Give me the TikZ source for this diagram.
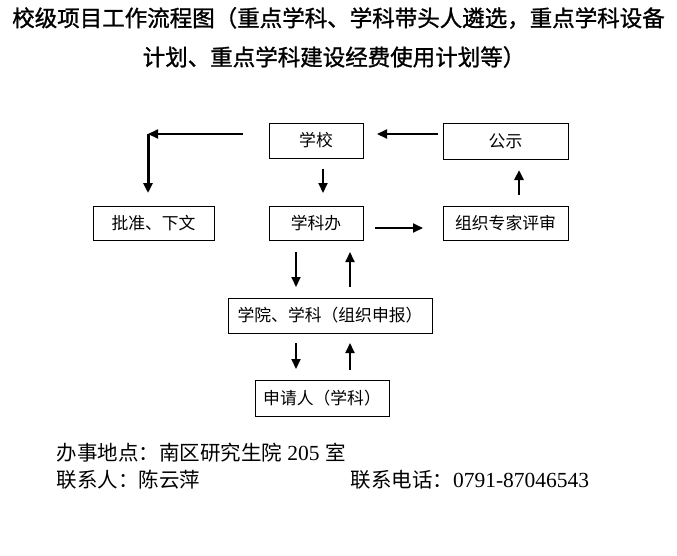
\documentclass[tikz,border=0pt]{standalone}
\usepackage{fontspec}
\setmainfont{Noto Sans CJK SC}
\newfontfamily\lserif{Liberation Serif}
\newfontfamily\heavyfont{Noto Sans CJK SC}[FakeBold=1.2]
\usetikzlibrary{arrows.meta,calc}
\begin{document}
\begin{tikzpicture}[x=1pt,y=-1pt,
  box/.style={draw,line width=0.8pt,inner sep=0pt,font=\fontsize{16.8}{20}\selectfont},
  arr/.style={-{Triangle[length=10pt,width=9pt]},line width=2pt},
  titlefont/.style={font=\fontsize{22.5}{26}\heavyfont},
  footfont/.style={font=\fontsize{20.5}{24}\selectfont}]
\useasboundingbox (0,0) rectangle (677,555);
% title
\node[titlefont,anchor=center] (t1) at (338.5,18) {校级项目工作流程图（重点学科、学科带头人遴选，重点学科设备};
\node[titlefont,anchor=center] (t2) at (334,57) {计划、重点学科建设经费使用计划等）};
% boxes
\node[box,minimum width=94pt,minimum height=35pt] (xx) at (316,140.5) {学校};
\node[box,minimum width=125pt,minimum height=36pt] (gs) at (505.5,141) {公示};
\node[box,minimum width=121pt,minimum height=34pt] (pz) at (153.5,223) {批准、下文};
\node[box,minimum width=94pt,minimum height=34pt] (xkb) at (316,223) {学科办};
\node[box,minimum width=125pt,minimum height=34pt] (zz) at (505.5,223) {组织专家评审};
\node[box,minimum width=204pt,minimum height=35pt] (xy) at (330,315.5) {学院、学科（组织申报）};
\node[box,minimum width=134pt,minimum height=36pt] (sq) at (322,398) {申请人（学科）};
% connector end points
\coordinate (a1) at (243,134);
\coordinate (corner) at (148,134);
\coordinate (a2) at (148,193);
\coordinate (b1) at (438,134);
\coordinate (b2) at (377,134);
\coordinate (c1) at (323,169);
\coordinate (c2) at (323,193);
\coordinate (d1) at (375,228);
\coordinate (d2) at (423,228);
\coordinate (e1) at (519,195);
\coordinate (e2) at (519,170);
\coordinate (f1) at (296,252);
\coordinate (f2) at (296,287);
\coordinate (g1) at (350,287);
\coordinate (g2) at (350,252);
\coordinate (h1) at (296,343);
\coordinate (h2) at (296,369);
\coordinate (k1) at (350,370);
\coordinate (k2) at (350,343);
% connectors
\draw[arr] (a1) -- (corner);
\draw[arr,line width=3pt] (corner) -- (a2);
\draw[arr] (b1) -- (b2);
\draw[arr] (c1) -- (c2);
\draw[arr] (d1) -- (d2);
\draw[arr,line width=2.5pt] (e1) -- (e2);
\draw[arr] (f1) -- (f2);
\draw[arr] (g1) -- (g2);
\draw[arr] (h1) -- (h2);
\draw[arr] (k1) -- (k2);
% footer
\node[footfont,anchor=west] (f1t) at (53,453) {办事地点：南区研究生院{\lserif\fontsize{21.5}{24}\selectfont\ 205\ }室};
\node[footfont,anchor=west] (f2t) at (53,480) {联系人：陈云萍};
\node[footfont,anchor=west] (f3t) at (347,480) {联系电话：{\lserif\fontsize{21.5}{24}\selectfont 0791-87046543}};
\end{tikzpicture}
\end{document}
